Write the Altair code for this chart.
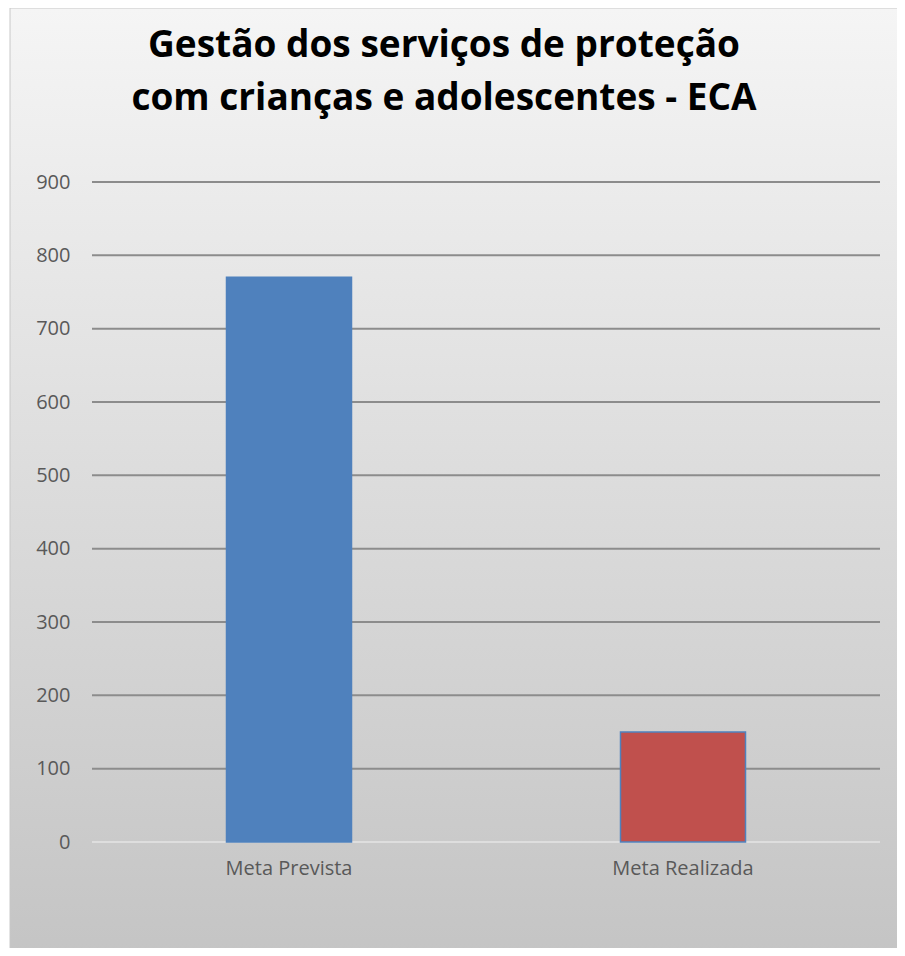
import altair as alt
import pandas as pd

categories = ["Meta Prevista", "Meta Realizada"]
values = [770, 150]
bar_colors = ["#4f81bd", "#c0504d"]
grid_values = [100, 200, 300, 400, 500, 600, 700, 800, 900]
title_lines = ["Gestão dos serviços de proteção", "com crianças e adolescentes - ECA"]

df = pd.DataFrame({"cat": categories, "val": values})
grid_df = pd.DataFrame({"v": grid_values})
zero_df = pd.DataFrame({"v": [0]})
one_df = pd.DataFrame({"a": [0]})

W, H = 788, 660
FONT = "Open Sans"

grad = alt.LinearGradient(
    gradient="linear", x1=0, y1=0, x2=0, y2=1,
    stops=[alt.GradientStop(offset=0, color="#f5f5f5"),
           alt.GradientStop(offset=0.5, color="#dcdcdc"),
           alt.GradientStop(offset=1, color="#c4c4c4")],
)

bg = alt.Chart(one_df).mark_rect(fill=grad, stroke="#c8c8c8", strokeWidth=1).encode(
    x=alt.value(-82), x2=alt.value(811), y=alt.value(-174), y2=alt.value(780)
)

title = alt.Chart(one_df).mark_text(
    text=title_lines, font=FONT, fontSize=37, fontWeight="bold", color="#000000",
    align="center", baseline="alphabetic", lineHeight=53,
).encode(x=alt.value(352), y=alt.value(-125))

yscale = alt.Scale(domain=[0, 900], nice=False)
yaxis = alt.Axis(title=None, values=[0] + grid_values, labelFont=FONT,
                 labelFontSize=20, labelColor="#595959", labelPadding=22,
                 ticks=False, domain=False, grid=False, zindex=1)

grid = alt.Chart(grid_df).mark_rule(color="#8c8c8c", strokeWidth=2).encode(
    y=alt.Y("v:Q", scale=yscale, axis=yaxis)
)
zero = alt.Chart(zero_df).mark_rule(color="#dedede", strokeWidth=2).encode(
    y=alt.Y("v:Q", scale=yscale, axis=yaxis)
)

bars = alt.Chart(df).mark_bar(size=125, stroke="#4f81bd", strokeWidth=1.5).encode(
    x=alt.X("cat:N", sort=categories,
            scale=alt.Scale(paddingInner=0, paddingOuter=0),
            axis=alt.Axis(title=None, labelAngle=0, labelFont=FONT, labelFontSize=20,
                          labelColor="#595959", labelPadding=16, ticks=False, domain=False,
                          grid=False, zindex=1)),
    y=alt.Y("val:Q", scale=yscale, axis=yaxis),
    color=alt.Color("cat:N", scale=alt.Scale(domain=categories, range=bar_colors), legend=None),
)

chart = alt.layer(bg, grid, zero, bars, title).properties(
    width=W, height=H,
    autosize=alt.AutoSizeParams(type="none"),
    padding={"left": 84, "top": 174, "right": 17, "bottom": 106},
    background="#ffffff",
).configure_view(stroke=None)

chart.save("out.html", embed_options={"renderer": "svg", "actions": False})
